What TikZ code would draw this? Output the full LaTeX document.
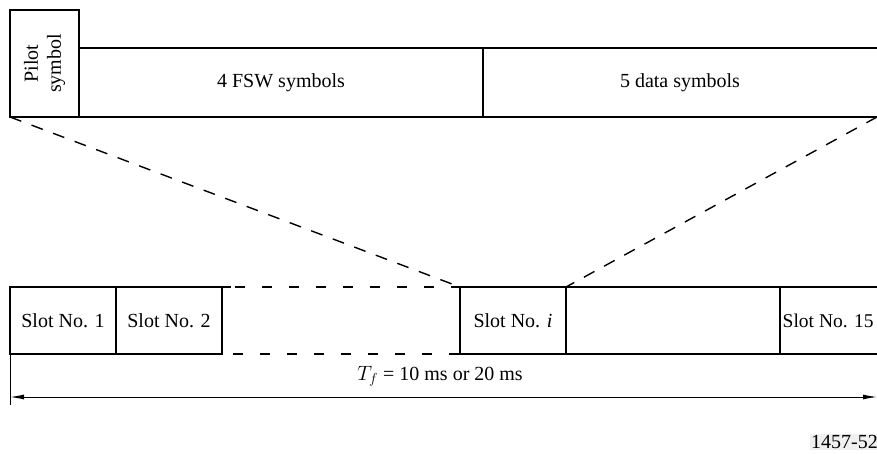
\documentclass[tikz,border=0pt]{standalone}
\usepackage{fontspec}
\setmainfont{Liberation Serif}
\usetikzlibrary{arrows.meta}
\begin{document}
\begin{tikzpicture}[x=1pt,y=-1pt,
  box/.style={draw=black, line width=2pt, inner sep=0pt, outer sep=0pt, minimum height=67pt},
  lbl/.style={font=\fontsize{20}{23}\selectfont, inner sep=0pt},
  dashdiag/.style={line width=1.4pt, dash pattern=on 12pt off 11pt},
  dashhor/.style={line width=2pt, dash pattern=on 10pt off 17pt},
  dim/.style={line width=1pt}]
\useasboundingbox (0,0) rectangle (877,454);
\clip (0,0) rectangle (877,454);
% top frame
\node[box, minimum width=69pt, minimum height=107pt, anchor=north west] (pilot) at (10,10) {};
\node[lbl, rotate=90, align=center] (pilottxt) at (pilot.center) {Pilot\\symbol};
\node[box, minimum width=404pt, minimum height=69pt, anchor=north west] (fsw) at (79,48) {};
\node[lbl] (fswtxt) at (fsw.center) {4 FSW symbols};
\node[box, minimum width=420pt, minimum height=69pt, anchor=north west] (data) at (483,48) {};
\node[lbl] (datatxt) at (680,82.5) {5 data symbols};
% bottom slots
\node[box, minimum width=106pt, anchor=north west] (s1) at (10,287) {};
\node[lbl] at (s1.center) {Slot No. 1};
\node[box, minimum width=106pt, anchor=north west] (s2) at (116,287) {};
\node[lbl] at (s2.center) {Slot No. 2};
\node[box, minimum width=106pt, anchor=north west] (si) at (460,287) {};
\node[lbl] at (si.center) {Slot No. \textit{i}};
\node[box, minimum width=214pt, anchor=north west] (snext) at (566,287) {};
\node[box, minimum width=120pt, anchor=north west] (s15) at (780,287) {};
\node[lbl, anchor=west, font=\fontsize{19.5}{23}\selectfont] at (782.5,320.5) {Slot No. 15};
% extension of top edge of slot 2
\coordinate (s2ext) at (231,287);
\draw[line width=2pt] (s2.north east) -- (s2ext);
% dashed continuation
\draw[dashhor] (235,287) -- (si.north west);
\draw[dashhor] (233,354) -- (si.south west);
% zoom lines
\draw[dashdiag] (pilot.south west) -- (si.north west);
\coordinate (dataend) at (877,117);
\draw[dashdiag] (dataend) -- (si.north east);
% dimension
\coordinate (tickbot) at (10,405);
\draw[dim] (s1.south west) -- (tickbot);
\coordinate (dimL) at (10,397);
\coordinate (dimR) at (877,397);
\draw[dim, {Latex[length=14pt,width=5pt]}-{Latex[length=14pt,width=5pt]}] (dimL) -- (dimR);
\node[lbl] (tf) at (440,376) {$T_f$ = 10 ms or 20 ms};
% figure number
\node[lbl, fill=gray!12, anchor=west, inner sep=1pt] (fignum) at (810,442) {1457-52};
\end{tikzpicture}
\end{document}
